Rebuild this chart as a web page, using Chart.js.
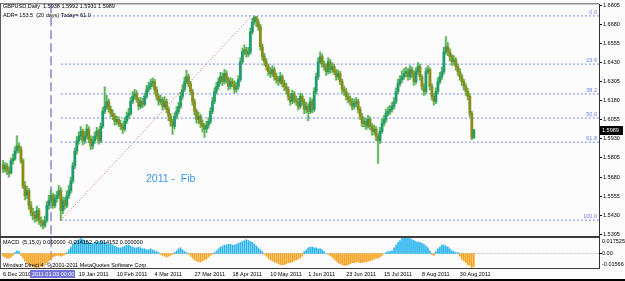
<!DOCTYPE html>
<html>
<head>
<meta charset="utf-8">
<script src="https://cdn.jsdelivr.net/npm/chart.js@4/dist/chart.umd.min.js"></script>
<style>
  body { margin: 0; background: #fcfcfd; }
  canvas { display: block; }
</style>
</head>
<body>
<canvas id="graph" width="625" height="281"></canvas>
<script>
// GBPUSD daily, 6 Dec 2010 .. 7 Sep 2011 (one entry per bar)
const opens = [
  1.5760,1.5734,1.5754,1.5721,1.5708,1.5786,1.5799,1.5851,1.5884,1.5864,
  1.5786,1.5624,1.5559,1.5591,1.5494,1.5448,1.5429,1.5409,1.5461,1.5396,
  1.5383,1.5364,1.5396,1.5494,1.5526,1.5559,1.5494,1.5539,1.5559,1.5591,
  1.5461,1.5526,1.5494,1.5559,1.5591,1.5656,1.5754,1.5851,1.5916,1.5948,
  1.5981,1.5916,1.5948,1.5994,1.5929,1.5884,1.5916,1.5948,1.5981,1.5916,
  1.6013,1.6110,1.6143,1.6175,1.6123,1.6097,1.6078,1.6045,1.6058,1.6032,
  1.6013,1.5994,1.6045,1.6078,1.6097,1.6175,1.6208,1.6227,1.6188,1.6143,
  1.6175,1.6156,1.6208,1.6253,1.6273,1.6292,1.6305,1.6253,1.6208,1.6175,
  1.6188,1.6143,1.6175,1.6123,1.6078,1.6045,1.6013,1.6078,1.6110,1.6143,
  1.6208,1.6253,1.6305,1.6338,1.6292,1.6240,1.6175,1.6110,1.6058,1.6078,
  1.6032,1.6013,1.5994,1.6019,1.6045,1.6110,1.6175,1.6240,1.6273,1.6305,
  1.6338,1.6305,1.6357,1.6318,1.6273,1.6305,1.6292,1.6253,1.6273,1.6318,
  1.6435,1.6500,1.6513,1.6487,1.6500,1.6630,1.6695,1.6728,1.6695,1.6663,
  1.6533,1.6468,1.6435,1.6403,1.6370,1.6357,1.6383,1.6338,1.6318,1.6305,
  1.6338,1.6292,1.6273,1.6253,1.6208,1.6175,1.6227,1.6188,1.6175,1.6143,
  1.6208,1.6175,1.6123,1.6143,1.6110,1.6175,1.6123,1.6240,1.6338,1.6435,
  1.6468,1.6422,1.6403,1.6370,1.6435,1.6383,1.6403,1.6370,1.6338,1.6357,
  1.6305,1.6253,1.6240,1.6208,1.6188,1.6175,1.6143,1.6162,1.6175,1.6123,
  1.6078,1.6032,1.6045,1.6013,1.6058,1.6013,1.5981,1.5994,1.5948,1.5916,
  1.5981,1.6032,1.6058,1.6097,1.6110,1.6123,1.6143,1.6175,1.6240,1.6292,
  1.6318,1.6338,1.6357,1.6370,1.6338,1.6383,1.6357,1.6305,1.6370,1.6403,
  1.6338,1.6273,1.6240,1.6370,1.6383,1.6273,1.6208,1.6175,1.6240,1.6305,
  1.6338,1.6370,1.6500,1.6533,1.6500,1.6468,1.6435,1.6448,1.6403,1.6370,
  1.6338,1.6305,1.6273,1.6240,1.6208,1.6097,1.5938
]
const highs = [
  1.5790,1.5775,1.5770,1.5745,1.5805,1.5830,1.5878,1.5950,1.5905,1.5880,
  1.5800,1.5650,1.5620,1.5605,1.5520,1.5475,1.5455,1.5490,1.5475,1.5420,
  1.5400,1.5425,1.5520,1.5560,1.5600,1.5575,1.5565,1.5585,1.5625,1.5610,
  1.5550,1.5545,1.5590,1.5625,1.5680,1.5775,1.5870,1.5945,1.5975,1.6010,
  1.5995,1.5980,1.6025,1.6010,1.5950,1.5945,1.5975,1.6005,1.5995,1.6035,
  1.6135,1.6270,1.6215,1.6190,1.6145,1.6120,1.6095,1.6080,1.6075,1.6050,
  1.6030,1.6070,1.6105,1.6130,1.6200,1.6240,1.6255,1.6245,1.6200,1.6200,
  1.6195,1.6230,1.6280,1.6300,1.6320,1.6330,1.6320,1.6270,1.6225,1.6215,
  1.6200,1.6205,1.6190,1.6140,1.6095,1.6060,1.6100,1.6140,1.6170,1.6235,
  1.6285,1.6335,1.6380,1.6355,1.6305,1.6255,1.6190,1.6125,1.6105,1.6090,
  1.6055,1.6030,1.6045,1.6070,1.6135,1.6200,1.6265,1.6300,1.6330,1.6365,
  1.6360,1.6385,1.6375,1.6335,1.6330,1.6325,1.6310,1.6300,1.6345,1.6460,
  1.6525,1.6545,1.6530,1.6530,1.6655,1.6720,1.6735,1.6733,1.6715,1.6680,
  1.6550,1.6490,1.6455,1.6420,1.6395,1.6410,1.6400,1.6360,1.6340,1.6365,
  1.6350,1.6315,1.6295,1.6270,1.6225,1.6250,1.6240,1.6210,1.6195,1.6230,
  1.6225,1.6190,1.6170,1.6160,1.6200,1.6190,1.6265,1.6360,1.6460,1.6500,
  1.6485,1.6440,1.6420,1.6460,1.6450,1.6430,1.6420,1.6385,1.6380,1.6370,
  1.6320,1.6275,1.6260,1.6230,1.6210,1.6195,1.6190,1.6200,1.6190,1.6140,
  1.6095,1.6070,1.6060,1.6085,1.6075,1.6030,1.6020,1.6010,1.5965,1.6005,
  1.6060,1.6085,1.6125,1.6140,1.6150,1.6170,1.6200,1.6265,1.6320,1.6345,
  1.6375,1.6390,1.6400,1.6390,1.6410,1.6400,1.6375,1.6395,1.6430,1.6420,
  1.6350,1.6290,1.6395,1.6410,1.6395,1.6290,1.6225,1.6265,1.6330,1.6365,
  1.6400,1.6530,1.6600,1.6560,1.6520,1.6485,1.6475,1.6460,1.6420,1.6390,
  1.6355,1.6320,1.6290,1.6260,1.6225,1.6110,1.5992
]
const lows = [
  1.5710,1.5712,1.5695,1.5680,1.5700,1.5765,1.5790,1.5835,1.5840,1.5770,
  1.5605,1.5530,1.5540,1.5470,1.5425,1.5400,1.5385,1.5390,1.5370,1.5355,
  1.5340,1.5350,1.5385,1.5470,1.5505,1.5475,1.5480,1.5515,1.5540,1.5398,
  1.5440,1.5470,1.5480,1.5540,1.5575,1.5640,1.5735,1.5830,1.5895,1.5925,
  1.5890,1.5900,1.5930,1.5905,1.5860,1.5865,1.5900,1.5930,1.5895,1.5905,
  1.6000,1.6095,1.6125,1.6105,1.6075,1.6055,1.6020,1.6025,1.6010,1.5990,
  1.5965,1.5980,1.6030,1.6060,1.6085,1.6160,1.6190,1.6170,1.6120,1.6130,
  1.6135,1.6145,1.6195,1.6235,1.6255,1.6270,1.6230,1.6185,1.6150,1.6155,
  1.6120,1.6130,1.6100,1.6050,1.6015,1.5960,1.5995,1.6060,1.6095,1.6130,
  1.6190,1.6240,1.6290,1.6270,1.6220,1.6150,1.6085,1.6035,1.6030,1.6005,
  1.5975,1.5940,1.5970,1.6000,1.6030,1.6095,1.6160,1.6225,1.6255,1.6290,
  1.6280,1.6290,1.6295,1.6250,1.6255,1.6270,1.6230,1.6235,1.6255,1.6305,
  1.6420,1.6480,1.6465,1.6470,1.6485,1.6615,1.6680,1.6665,1.6640,1.6510,
  1.6445,1.6410,1.6380,1.6345,1.6330,1.6340,1.6315,1.6295,1.6280,1.6290,
  1.6270,1.6245,1.6225,1.6185,1.6150,1.6160,1.6165,1.6150,1.6120,1.6130,
  1.6150,1.6095,1.6100,1.6050,1.6095,1.6100,1.6110,1.6225,1.6320,1.6420,
  1.6400,1.6380,1.6345,1.6355,1.6360,1.6365,1.6350,1.6315,1.6320,1.6285,
  1.6230,1.6215,1.6185,1.6165,1.6150,1.6120,1.6125,1.6140,1.6100,1.6055,
  1.6010,1.6010,1.5990,1.6000,1.5990,1.5955,1.5960,1.5920,1.5770,1.5900,
  1.5965,1.6015,1.6040,1.6080,1.6090,1.6105,1.6125,1.6160,1.6225,1.6275,
  1.6300,1.6320,1.6335,1.6315,1.6320,1.6330,1.6280,1.6290,1.6350,1.6315,
  1.6250,1.6215,1.6225,1.6355,1.6250,1.6185,1.6150,1.6160,1.6225,1.6290,
  1.6320,1.6355,1.6485,1.6475,1.6440,1.6410,1.6415,1.6380,1.6345,1.6315,
  1.6280,1.6250,1.6215,1.6185,1.6075,1.5925,1.5931
]
const closes = [
  1.5734,1.5754,1.5721,1.5708,1.5786,1.5799,1.5851,1.5884,1.5864,1.5786,
  1.5624,1.5559,1.5591,1.5494,1.5448,1.5429,1.5409,1.5461,1.5396,1.5383,
  1.5364,1.5396,1.5494,1.5526,1.5559,1.5494,1.5539,1.5559,1.5591,1.5461,
  1.5526,1.5494,1.5559,1.5591,1.5656,1.5754,1.5851,1.5916,1.5948,1.5981,
  1.5916,1.5948,1.5994,1.5929,1.5884,1.5916,1.5948,1.5981,1.5916,1.6013,
  1.6110,1.6143,1.6175,1.6123,1.6097,1.6078,1.6045,1.6058,1.6032,1.6013,
  1.5994,1.6045,1.6078,1.6097,1.6175,1.6208,1.6227,1.6188,1.6143,1.6175,
  1.6156,1.6208,1.6253,1.6273,1.6292,1.6305,1.6253,1.6208,1.6175,1.6188,
  1.6143,1.6175,1.6123,1.6078,1.6045,1.6013,1.6078,1.6110,1.6143,1.6208,
  1.6253,1.6305,1.6338,1.6292,1.6240,1.6175,1.6110,1.6058,1.6078,1.6032,
  1.6013,1.5994,1.6019,1.6045,1.6110,1.6175,1.6240,1.6273,1.6305,1.6338,
  1.6305,1.6357,1.6318,1.6273,1.6305,1.6292,1.6253,1.6273,1.6318,1.6435,
  1.6500,1.6513,1.6487,1.6500,1.6630,1.6695,1.6728,1.6695,1.6663,1.6533,
  1.6468,1.6435,1.6403,1.6370,1.6357,1.6383,1.6338,1.6318,1.6305,1.6338,
  1.6292,1.6273,1.6253,1.6208,1.6175,1.6227,1.6188,1.6175,1.6143,1.6208,
  1.6175,1.6123,1.6143,1.6110,1.6175,1.6123,1.6240,1.6338,1.6435,1.6468,
  1.6422,1.6403,1.6370,1.6435,1.6383,1.6403,1.6370,1.6338,1.6357,1.6305,
  1.6253,1.6240,1.6208,1.6188,1.6175,1.6143,1.6162,1.6175,1.6123,1.6078,
  1.6032,1.6045,1.6013,1.6058,1.6013,1.5981,1.5994,1.5948,1.5916,1.5981,
  1.6032,1.6058,1.6097,1.6110,1.6123,1.6143,1.6175,1.6240,1.6292,1.6318,
  1.6338,1.6357,1.6370,1.6338,1.6383,1.6357,1.6305,1.6370,1.6403,1.6338,
  1.6273,1.6240,1.6370,1.6383,1.6273,1.6208,1.6175,1.6240,1.6305,1.6338,
  1.6370,1.6500,1.6533,1.6500,1.6468,1.6435,1.6448,1.6403,1.6370,1.6338,
  1.6305,1.6273,1.6240,1.6208,1.6097,1.5938,1.5989
]
// MACD(5,15,0) histogram
const macd = [
  -0.003,-0.004,-0.005,-0.005,-0.004,-0.002,0.001,0.003,0.002,
  -0.002,-0.005,-0.008,-0.010,-0.012,-0.013,-0.014,-0.015,-0.0155,-0.015,-0.014,-0.013,-0.012,-0.010,-0.008,-0.006,-0.004,
  -0.003,-0.002,-0.002,-0.003,-0.002,-0.001,
  0.001,0.004,0.007,0.010,0.012,0.014,0.015,0.016,0.015,0.014,0.013,0.012,0.011,0.011,0.012,
  0.012,0.013,0.014,0.013,0.012,0.011,0.010,0.010,0.009,
  0.008,0.007,0.006,0.006,0.007,0.008,0.009,0.009,0.008,0.007,0.006,0.006,0.007,0.006,0.005,
  0.005,0.004,0.004,0.005,0.004,0.003,0.002,0.001,
  -0.001,-0.002,-0.003,-0.004,-0.003,-0.002,-0.001,0.001,0.003,0.005,0.006,
  0.004,0.002,0.001,-0.001,
  -0.003,-0.005,-0.007,-0.008,-0.009,-0.009,-0.008,-0.007,-0.006,-0.004,-0.002,-0.001,
  0.001,0.003,0.005,0.007,0.008,0.009,0.009,0.010,0.010,0.009,0.009,0.010,0.011,0.012,0.013,0.014,0.015,0.014,0.013,0.012,0.010,0.008,0.006,0.004,0.002,
  -0.001,-0.003,-0.005,-0.007,-0.008,-0.009,-0.010,-0.011,-0.012,-0.012,-0.012,-0.011,-0.010,-0.010,-0.009,-0.008,-0.007,-0.006,-0.005,-0.003,
  0.002,0.004,0.006,0.007,0.007,0.006,0.006,0.005,0.005,0.004,
  0.002,0.000,-0.001,-0.002,
  -0.004,-0.006,-0.008,-0.010,-0.011,-0.012,-0.013,-0.013,-0.012,-0.011,-0.010,-0.010,-0.009,-0.009,-0.010,-0.010,-0.009,-0.009,-0.008,-0.008,-0.007,-0.006,-0.005,-0.005,-0.004,-0.002,
  0.000,0.001,0.002,0.002,
  0.003,0.006,0.009,0.012,0.014,0.016,0.017,0.0175,0.017,0.016,0.015,0.014,0.013,0.012,0.012,0.011,0.010,0.008,0.006,
  0.003,-0.001,-0.002,
  0.002,0.005,0.007,0.009,0.009,0.008,0.007,0.005,
  0.003,0.002,0.001,0.001,
  -0.003,-0.006,-0.008,-0.010,-0.012,-0.013,-0.0157,-0.0142
]

const xTickIdx = [0, 38, 57, 76, 96, 115, 134, 153, 172, 191, 210, 229]
const xTickText = ['6 Dec 2010', '19 Jan 2011', '10 Feb 2011', '4 Mar 2011', '27 Mar 2011', '18 Apr 2011',
  '10 May 2011', '1 Jun 2011', '23 Jun 2011', '15 Jul 2011', '8 Aug 2011', '30 Aug 2011']
const priceTicks = [1.5305, 1.5430, 1.5555, 1.5680, 1.5805, 1.5930, 1.6055, 1.6180, 1.6305, 1.6430, 1.6555, 1.6680, 1.6805]
const macdMax = 0.017525
const macdMin = -0.01566

// fibonacci drawn from the January low to the April high
const fibLow = 1.5398
const fibHigh = 1.6735
const fibStartIdx = 29
const fibEndIdx = 124.5
const fibRatios = [0, 23.6, 38.2, 50, 61.8, 100]
const vLineIdx = 24
const vLineText = '2011.01.03 00:00'

const X_MIN = -0.75, X_MAX = 298.75
const FONT = "'Liberation Sans', Arial, sans-serif"

const idx = closes.map((c, i) => i)
const bullCol = '#1f9c70', bearCol = '#8e8a14'

const fibLevels = fibRatios.map(r => fibHigh - (fibHigh - fibLow) * r / 100)
const fibSets = fibLevels.map(v => ({
    type: 'line',
    data: [{x: fibStartIdx, y: v}, {x: X_MAX, y: v}],
    borderColor: '#7388ee',
    borderWidth: 1,
    borderDash: [2, 2],
    pointRadius: 0,
    yAxisID: 'y',
    order: 6,
}))

const overlay = {
    id: 'overlay',
    beforeDraw(chart) {
        const ctx = chart.ctx
        ctx.save()
        ctx.fillStyle = '#fcfcfd'
        ctx.fillRect(0, 0, chart.width, chart.height)
        ctx.restore()
    },
    beforeDatasetsDraw(chart) {
        const ctx = chart.ctx, a = chart.chartArea
        const x = chart.scales.x, m = chart.scales.m
        ctx.save()
        // zero line of the MACD pane
        const z = Math.round(m.getPixelForValue(0)) + 0.5
        ctx.strokeStyle = '#b8b8b8'
        ctx.lineWidth = 1
        ctx.setLineDash([2, 2])
        ctx.beginPath(); ctx.moveTo(a.left, z); ctx.lineTo(a.right, z); ctx.stroke()
        // period separator
        const vx = Math.round(x.getPixelForValue(vLineIdx))
        ctx.strokeStyle = '#a4a4e2'
        ctx.lineWidth = 2
        ctx.setLineDash([9, 4])
        ctx.beginPath(); ctx.moveTo(vx, a.top); ctx.lineTo(vx, a.bottom); ctx.stroke()
        ctx.restore()
    },
    afterDraw(chart) {
        const ctx = chart.ctx, a = chart.chartArea
        const x = chart.scales.x, y = chart.scales.y, m = chart.scales.m
        const last = closes.length - 1
        ctx.save()
        ctx.setLineDash([])
        // pane frames
        ctx.fillStyle = '#5a5a5a'
        ctx.fillRect(0, a.top - 1, a.right, 1)
        ctx.fillRect(0, a.top - 1, 1, a.bottom - a.top + 1)
        ctx.fillStyle = '#3c3c3c'
        ctx.fillRect(0, Math.round(m.top) - 1, a.right, 2)
        ctx.fillRect(0, a.bottom, a.right + 1, 1)
        ctx.fillStyle = '#000'
        ctx.fillRect(0, chart.height - 2, chart.width, 2)

        // header texts
        ctx.fillStyle = '#000'
        ctx.font = '5.5px ' + FONT
        ctx.textBaseline = 'middle'
        ctx.textAlign = 'left'
        ctx.fillText('GBPUSD,Daily  ' + [opens[last], highs[last], lows[last], closes[last]].map(v => v.toFixed(4)).join(' '), 3, 6)
        ctx.fillText('ADR= 153.5  (20 days) Today= 61.0', 3, 15)
        ctx.fillText('MACD  (5,15,0) 0.000000 -0.014152 -0.014152 0.000000', 3, Math.round(m.top) + 5)
        ctx.fillText('Windsor Direct 4, \u00a9 2001-2011 MetaQuotes Software Corp.', 3, a.bottom - 3)

        // fib level captions
        ctx.fillStyle = '#6c82e6'
        ctx.textAlign = 'right'
        ctx.textBaseline = 'bottom'
        fibLevels.forEach((v, i) => {
            ctx.fillText(fibRatios[i].toFixed(1), a.right - 2, y.getPixelForValue(v) - 0.5)
        })

        ctx.fillStyle = '#3b97ea'
        ctx.font = '10.5px ' + FONT
        ctx.textAlign = 'left'
        ctx.textBaseline = 'middle'
        ctx.fillText('2011 -  Fib', 146, 179)

        // MACD scale captions
        ctx.fillStyle = '#000'
        ctx.font = '5.5px ' + FONT
        ctx.fillText(macdMax.toFixed(6), a.right + 3, m.top + 4)
        ctx.fillText('0.00', a.right + 3, m.getPixelForValue(0))
        ctx.fillText(macdMin.toFixed(5), a.right + 3, m.bottom - 4)
        ctx.fillRect(a.right, Math.round(m.getPixelForValue(0)), 3, 1)

        // current price box
        const py = y.getPixelForValue(closes[last])
        ctx.fillStyle = '#000'
        ctx.fillRect(a.right + 1, Math.round(py) - 4, 23, 9)
        ctx.fillStyle = '#fff'
        ctx.fillText(closes[last].toFixed(4), a.right + 3, py + 0.5)

        // time label of the separator line
        const vx = x.getPixelForValue(vLineIdx)
        ctx.fillStyle = '#7474d8'
        ctx.fillRect(Math.round(vx) - 21, a.bottom + 2, 45, 8)
        ctx.fillStyle = '#fff'
        ctx.fillText(vLineText, Math.round(vx) - 19, a.bottom + 6)
        ctx.restore()
    }
}

const config = {
    type: 'bar',
    data: {
        datasets: [
            {
                label: 'shade',
                data: idx.map(i => ({x: i, y: [lows[i], highs[i]]})),
                backgroundColor: 'rgba(120, 190, 120, 0.25)',
                barThickness: 3,
                grouped: false,
                yAxisID: 'y',
                order: 5,
            },
            {
                label: 'wick',
                data: idx.map(i => ({x: i, y: [lows[i], highs[i]]})),
                backgroundColor: '#5fb25a',
                barThickness: 1,
                grouped: false,
                yAxisID: 'y',
                order: 4,
            },
            {
                label: 'body',
                data: idx.map(i => ({x: i, y: [opens[i], closes[i]]})),
                backgroundColor: idx.map(i => closes[i] >= opens[i] ? bullCol : bearCol),
                barThickness: 2,
                minBarLength: 1,
                grouped: false,
                yAxisID: 'y',
                order: 3,
            },
            ...fibSets,
            {
                type: 'line',
                data: [{x: fibStartIdx, y: fibLow}, {x: fibEndIdx, y: fibHigh}],
                borderColor: '#e05a5a',
                borderWidth: 1,
                borderDash: [1, 2],
                pointRadius: 0,
                yAxisID: 'y',
                order: 2,
            },
            {
                label: 'MACD',
                data: idx.map(i => ({x: i, y: macd[i]})),
                backgroundColor: idx.map(i => macd[i] >= 0 ? '#27b4ee' : '#f6a31e'),
                barThickness: 1,
                grouped: false,
                yAxisID: 'm',
                order: 1,
            },
        ],
    },
    options: {
        responsive: false,
        animation: false,
        devicePixelRatio: 1,
        layout: { padding: { top: 2, left: 0, right: 0, bottom: 0 } },
        plugins: { legend: { display: false }, tooltip: { enabled: false } },
        scales: {
            x: {
                type: 'linear',
                offset: false,
                min: X_MIN,
                max: X_MAX,
                position: 'bottom',
                afterFit: s => { s.height = 13 },
                afterBuildTicks: s => { s.ticks = xTickIdx.map(v => ({value: v})) },
                ticks: {
                    autoSkip: false,
                    maxRotation: 0,
                    minRotation: 0,
                    align: 'start',
                    padding: 3,
                    color: '#000',
                    font: { size: 5.5, family: FONT },
                    callback: (v, i) => xTickText[i],
                },
                grid: { display: false, drawTicks: false, tickLength: 0, offset: false },
                border: { display: false },
            },
            y: {
                type: 'linear',
                position: 'right',
                stack: 'panes',
                stackWeight: 235,
                min: 1.5286,
                max: 1.6811,
                afterFit: s => { s.width = 26 },
                afterBuildTicks: s => { s.ticks = priceTicks.map(v => ({value: v})) },
                ticks: {
                    padding: 1,
                    color: '#000',
                    font: { size: 5.5, family: FONT },
                    callback: v => v.toFixed(4),
                },
                grid: { drawOnChartArea: false, tickLength: 3, color: '#000' },
                border: { color: '#333', width: 1 },
            },
            m: {
                type: 'linear',
                position: 'right',
                stack: 'panes',
                stackWeight: 31,
                min: macdMin,
                max: macdMax,
                afterFit: s => { s.width = 26 },
                ticks: { display: false },
                grid: { display: false },
                border: { color: '#333', width: 1 },
            },
        },
    },
    plugins: [overlay],
}

let myChart = new Chart(
    document.getElementById('graph').getContext('2d'),
    config
);
</script>
</body>
</html>
